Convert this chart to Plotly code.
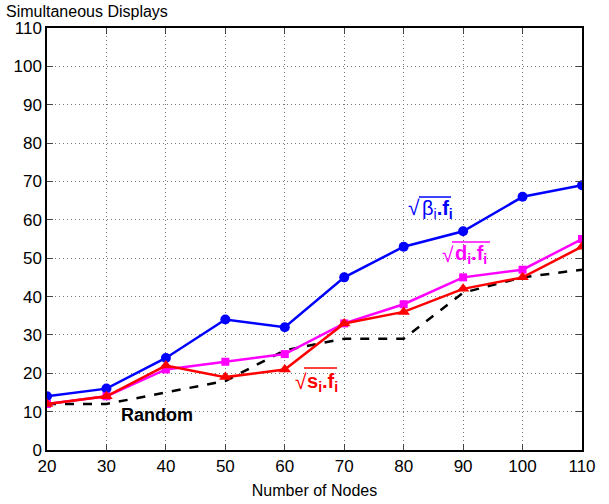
import plotly.graph_objects as go

nodes = [20, 30, 40, 50, 60, 70, 80, 90, 100, 110]
beta_f = [14, 16, 24, 34, 32, 45, 53, 57, 66, 69]
d_f = [12, 14, 21, 23, 25, 33, 38, 45, 47, 55]
s_f = [12, 14, 22, 19, 21, 33, 36, 42, 45, 53]
random_v = [12, 12, 15, 18, 26, 29, 29, 41, 45, 47]

x_ticks = [20, 30, 40, 50, 60, 70, 80, 90, 100, 110]
y_ticks = [0, 10, 20, 30, 40, 50, 60, 70, 80, 90, 100, 110]

FONT = "Liberation Sans, Arial, sans-serif"

fig = go.Figure()
fig.add_trace(go.Scatter(x=nodes, y=random_v, mode="lines",
                         line=dict(color="black", width=2.5, dash="dash")))
fig.add_trace(go.Scatter(x=nodes, y=beta_f, mode="lines+markers",
                         line=dict(color="#0000ff", width=2.5),
                         marker=dict(symbol="circle", size=10, color="#0000ff")))
fig.add_trace(go.Scatter(x=nodes, y=d_f, mode="lines+markers",
                         line=dict(color="#ff00ff", width=2.5),
                         marker=dict(symbol="square", size=8, color="#ff00ff")))
fig.add_trace(go.Scatter(x=nodes, y=s_f, mode="lines+markers",
                         line=dict(color="#ff0000", width=2.5),
                         marker=dict(symbol="triangle-up", size=11, color="#ff0000")))

# paper coords: plot area x 47..582, y 450..28
def px(xp):
    return (xp - 47) / (582 - 47)

def py(yp):
    return (450 - yp) / (450 - 28)

def sqrt_label(x, y, body, color, over_x0, over_x1, over_y):
    fig.add_annotation(x=px(x), y=py(y), xref="paper", yref="paper", text="√",
                       showarrow=False, xanchor="left", yanchor="middle",
                       font=dict(family=FONT, size=21, color=color))
    fig.add_annotation(x=px(over_x0 + 1), y=py(y + 1), xref="paper", yref="paper", text=body,
                       showarrow=False, xanchor="left", yanchor="middle",
                       font=dict(family=FONT, size=20, color=color))
    fig.add_shape(type="line", xref="paper", yref="paper",
                  x0=px(over_x0), x1=px(over_x1), y0=py(over_y), y1=py(over_y),
                  line=dict(color=color, width=1.5))

sqrt_label(406, 208, "β<sub>i</sub><b>.f<sub>i</sub></b>", "#0000ff", 419, 451, 197)
sqrt_label(440, 254, "<b>d<sub>i</sub>.f<sub>i</sub></b>", "#ff00ff", 452, 490, 242)
sqrt_label(293, 381, "<b>s<sub>i</sub>.f<sub>i</sub></b>", "#ff0000", 304, 337, 368)

fig.add_annotation(x=px(119), y=py(415), xref="paper", yref="paper", text="<b>Random</b>",
                   showarrow=False, xanchor="left", yanchor="middle",
                   font=dict(family=FONT, size=18, color="black"))

fig.add_annotation(x=0, y=1, xref="paper", yref="paper", text="Simultaneous Displays",
                   showarrow=False, xanchor="left", yanchor="bottom", xshift=-43, yshift=6,
                   font=dict(family=FONT, size=16, color="black"))

fig.update_layout(
    width=609, height=504,
    margin=dict(l=47, r=27, t=28, b=54),
    paper_bgcolor="white", plot_bgcolor="white",
    showlegend=False,
    font=dict(family=FONT, size=16, color="black"),
    xaxis=dict(range=[20, 110], tickvals=x_ticks, ticks="inside", ticklen=6,
               showline=True, linecolor="black", linewidth=1.5, mirror="ticks",
               showgrid=True, gridcolor="#777777", griddash="1px,3px", gridwidth=1,
               zeroline=False, tickfont=dict(size=17), automargin=False,
               title=dict(text="Number of Nodes", standoff=10, font=dict(size=16))),
    yaxis=dict(range=[0, 110], tickvals=y_ticks, ticks="inside", ticklen=6,
               showline=True, linecolor="black", linewidth=1.5, mirror="ticks",
               showgrid=True, gridcolor="#777777", griddash="1px,3px", gridwidth=1,
               zeroline=False, tickfont=dict(size=17), automargin=False),
)

fig.write_html("out.html")
